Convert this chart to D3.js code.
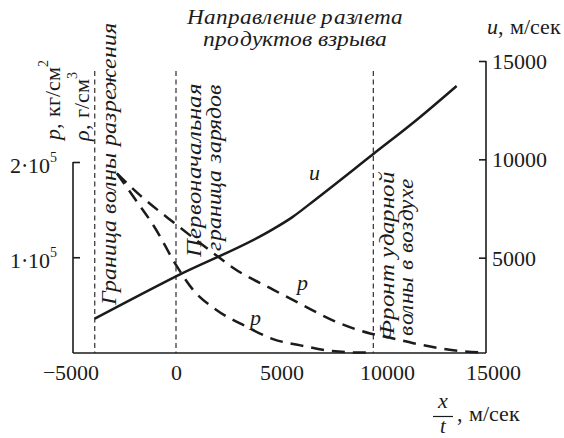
<!DOCTYPE html>
<html>
<head>
<meta charset="utf-8">
<script src="https://cdn.jsdelivr.net/npm/d3@7"></script>
<style>
  @font-face { font-family: "ChartSerif"; font-style: normal; src: local("Liberation Serif"), local("LiberationSerif"), local("Liberation Serif Regular"), local("LiberationSerif-Regular"); }
  @font-face { font-family: "ChartSerif"; font-style: italic; src: local("Liberation Serif Italic"), local("LiberationSerif-Italic"); }
</style>
</head>
<body style="margin:0">
<svg id="chart" width="564" height="438" style="display:block"></svg>
<script>
// ---- data -------------------------------------------------------------
// tick values
const xTicks = [-5000, 0, 5000, 10000, 15000];
const uTicks = [5000, 10000, 15000];
const pTicks = [100000, 200000];

// flow velocity u (m/s) against x/t (m/s)
const uX   = [-3850, 0, 4600, 5500, 6600, 9350, 11400, 13300];
const uVal = [1900, 4050, 6450, 7050, 7950, 10270, 12000, 13730];

// pressure profile reaching the shock front
const p1X   = [-2800, -1700, 0, 2000, 2700, 4600, 5900, 7400, 9200, 10150, 11250, 12500, 13600, 14600];
const p1Val = [188000, 165000, 134500, 100500, 89000, 66000, 51000, 34000, 20000, 15500, 9800, 4500, 1200, 0];

// steeper profile inside the products
const p2X   = [-2800, -2000, -1000, 0, 800, 1900, 3350, 4600, 5900, 7400, 8700, 9300];
const p2Val = [188000, 163000, 131000, 92000, 66000, 45000, 27000, 14000, 7500, 1500, 0, 0];

// rarefaction boundary, initial charge boundary, air shock front
const boundaryX = [-3850, 0, 9350];

// ---- layout -----------------------------------------------------------
const left = 73, right = 486, bottom = 353, boundaryTop = 71;
const ink = "#1b1b1b";
const FS = 22;
const FACE = '"ChartSerif", "Liberation Serif"';

const svg = d3.select("#chart");
// serif face for a text element; size given as a plain attribute
const serif = (sel, size = FS) => sel.style("font-family", FACE)
  .attr("font-size", size).attr("fill", ink);

const x = d3.scaleLinear().domain([-5000, 15000]).range([70.5, 492.5]);
const pY = d3.scaleLinear().domain([0, 200000]).range([352.5, 162]);
const uY = d3.scaleLinear().domain([0, 15000]).range([356, 61]);

// ---- frame ------------------------------------------------------------
const frame = svg.append("g").attr("stroke", ink).attr("stroke-width", 1.6).attr("fill", "none");
frame.append("line").attr("x1", left).attr("x2", left).attr("y1", pY(200000)).attr("y2", bottom);
frame.append("line").attr("x1", left).attr("x2", right).attr("y1", bottom).attr("y2", bottom);
frame.append("line").attr("x1", right).attr("x2", right).attr("y1", uY(15000)).attr("y2", bottom);

// bottom axis labels
const gx = svg.append("g").attr("transform", `translate(0,${bottom})`)
  .call(d3.axisBottom(x).tickValues(xTicks).tickSize(0).tickPadding(11.4).tickFormat(d3.format("d")));
gx.attr("font-family", null).attr("font-size", null);
gx.select(".domain").remove();
serif(gx.selectAll("text"));

// right axis (velocity)
const gu = svg.append("g").attr("transform", `translate(${right},0)`)
  .call(d3.axisRight(uY).tickValues(uTicks).tickSizeInner(-7).tickSizeOuter(0).tickPadding(6).tickFormat(d3.format("d")));
gu.attr("font-family", null).attr("font-size", null);
gu.select(".domain").remove();
gu.selectAll("line").attr("stroke", ink).attr("stroke-width", 1.6);
serif(gu.selectAll("text")).attr("dy", "0.34em");

// left axis (pressure), labels written as a·10^n
const gp = svg.append("g").attr("transform", `translate(${left},0)`)
  .call(d3.axisLeft(pY).tickValues(pTicks).tickSizeInner(-7).tickSizeOuter(0).tickFormat(""));
gp.attr("font-family", null).attr("font-size", null);
gp.select(".domain").remove();
gp.selectAll("line").attr("stroke", ink).attr("stroke-width", 1.6);
gp.selectAll(".tick").each(function(v) {
  const e = Math.floor(Math.log10(v));
  const m = v / Math.pow(10, e);
  const t = serif(d3.select(this).append("text"))
    .attr("x", -16).attr("y", 10.5).attr("text-anchor", "end");
  t.append("tspan").text(`${m}·10`);
  t.append("tspan").attr("font-size", 14).attr("dy", -11).text(e);
});

// ---- boundaries -------------------------------------------------------
svg.append("g").selectAll("line").data(boundaryX).join("line")
  .attr("x1", d => x(d)).attr("x2", d => x(d))
  .attr("y1", boundaryTop).attr("y2", bottom)
  .attr("stroke", ink).attr("stroke-width", 1.1).attr("stroke-dasharray", "5,3.5");

// ---- curves -----------------------------------------------------------
const uLine = d3.line().x(d => x(d[0])).y(d => uY(d[1])).curve(d3.curveMonotoneX);
const pLine = d3.line().x(d => x(d[0])).y(d => pY(d[1])).curve(d3.curveMonotoneX);

svg.append("path").datum(d3.zip(uX, uVal)).attr("d", uLine)
  .attr("fill", "none").attr("stroke", ink).attr("stroke-width", 2.5);
svg.append("path").datum(d3.zip(p1X, p1Val)).attr("d", pLine)
  .attr("fill", "none").attr("stroke", ink).attr("stroke-width", 2.5).attr("stroke-dasharray", "13,8");
svg.append("path").datum(d3.zip(p2X, p2Val)).attr("d", pLine)
  .attr("fill", "none").attr("stroke", ink).attr("stroke-width", 2.5).attr("stroke-dasharray", "13,8");

// ---- text helpers -----------------------------------------------------
function label(px, py, txt, size = FS) {
  return serif(svg.append("text"), size).attr("x", px).attr("y", py)
    .attr("font-style", "italic").text(txt);
}
function vtext(px, py, parts, len) {
  const t = serif(svg.append("text")).attr("transform", `translate(${px},${py}) rotate(-90)`);
  parts.forEach(p => {
    const s = t.append("tspan").text(p.t);
    if (p.i) s.attr("font-style", "italic");
    if (p.sup) s.attr("font-size", 14).attr("dy", -12);
  });
  if (len) t.attr("textLength", len).attr("lengthAdjust", "spacingAndGlyphs");
  return t;
}

// curve names
label(309, 180, "u");
label(297, 290, "p");
label(250, 325, "p");

// ---- vertical captions ------------------------------------------------
vtext(60, 140, [{t: "p", i: true}, {t: ", кг/см"}, {t: "2", sup: true}]);
vtext(89, 141, [{t: "ρ", i: true}, {t: ", г/см"}, {t: "3", sup: true}]);
vtext(116, 305, [{t: "Граница волны разрежения", i: true}], 282);
vtext(201, 257, [{t: "Первоначальная", i: true}], 173);
vtext(221, 251, [{t: "граница зарядов", i: true}], 167);
vtext(394, 340, [{t: "Фронт ударной", i: true}], 168);
vtext(413, 336, [{t: "волны в воздухе", i: true}], 158);

// ---- title and axis names --------------------------------------------
label(295, 24, "Направление разлета", 21).attr("text-anchor", "middle")
  .attr("textLength", 216).attr("lengthAdjust", "spacingAndGlyphs");
label(295, 46, "продуктов взрыва", 21).attr("text-anchor", "middle")
  .attr("textLength", 185).attr("lengthAdjust", "spacingAndGlyphs");

const uName = serif(svg.append("text")).attr("x", 487).attr("y", 34);
uName.append("tspan").attr("font-style", "italic").text("u");
uName.append("tspan").text(", м/сек");

// x/t as a fraction
label(443, 408, "x").attr("text-anchor", "middle");
svg.append("line").attr("x1", 433).attr("x2", 453).attr("y1", 416.5).attr("y2", 416.5)
  .attr("stroke", ink).attr("stroke-width", 1.2);
label(443, 433, "t", 21).attr("text-anchor", "middle");
serif(svg.append("text")).attr("x", 457).attr("y", 421).text(", м/сек");
</script>
</body>
</html>
